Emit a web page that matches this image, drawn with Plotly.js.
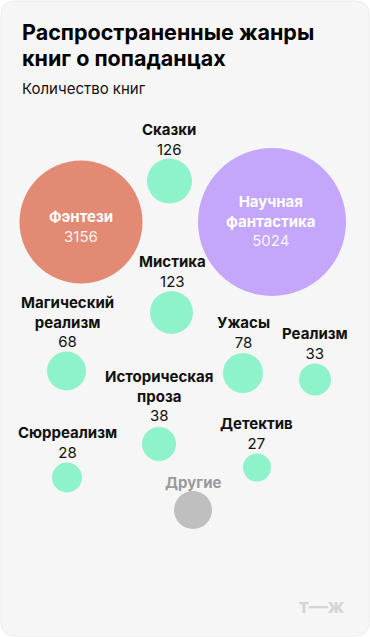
<!DOCTYPE html>
<html>
<head>
<meta charset="utf-8">
<script src="https://cdn.plot.ly/plotly-3.0.1.min.js"></script>
<style>html,body{margin:0;padding:0;background:#fff}#chart{width:370px;height:637px}</style>
</head>
<body>
<div id="chart"></div>
<script>
// ---- data ----
const genres = ['Фэнтези', 'Научная фантастика', 'Сказки', 'Мистика', 'Магический реализм', 'Ужасы', 'Реализм', 'Историческая проза', 'Сюрреализм', 'Детектив', 'Другие'];
const labelText = ['Фэнтези', 'Научная<br>фантастика', 'Сказки', 'Мистика', 'Магический<br>реализм', 'Ужасы', 'Реализм', 'Историческая<br>проза', 'Сюрреализм', 'Детектив', 'Другие'];
const counts = [3156, 5024, 126, 123, 68, 78, 33, 38, 28, 27, null];
const groups = ['fantasy', 'scifi', 'other', 'other', 'other', 'other', 'other', 'other', 'other', 'other', 'rest'];

// ---- layout of the packed bubbles (pixel space) ----
const bubbleX = [81, 272, 169.5, 171.5, 66.5, 243, 315, 159, 67, 257, 193];
const bubbleY = [222, 222, 181, 312.5, 371, 373, 379.5, 444, 477.5, 467.5, 510];
const bubbleD = [123, 148, 45, 43, 39, 40, 32, 34, 30, 28, 38];
const labelX = [81, 271, 169, 172, 67, 243, 315, 159, 67, 256, 193];
const labelY = [226, 221, 139, 271, 321.5, 332.5, 343, 396, 442, 433, 482];

const colorOf = {fantasy: '#e38a75', scifi: '#c4a6fa', other: '#8ef3cb', rest: '#bfbfbf'};
const FONT = 'Inter, Roboto, "DejaVu Sans", sans-serif';

const trace = {
  type: 'scatter', mode: 'markers',
  x: bubbleX, y: bubbleY,
  text: genres,
  hoverinfo: 'text',
  marker: {size: bubbleD, sizemode: 'diameter', color: groups.map(g => colorOf[g]), line: {width: 0}, opacity: 1}
};

const annotations = genres.map((g, i) => {
  const inside = groups[i] === 'fantasy' || groups[i] === 'scifi';
  const nameColor = inside ? '#ffffff' : (groups[i] === 'rest' ? '#9a9a9a' : '#111111');
  const numColor = inside ? 'rgba(255,255,255,0.92)' : '#111111';
  let txt = '<b>' + labelText[i].split('<br>').join('</b><br><b>') + '</b>';
  if (counts[i] !== null) txt += '<br><span style="color:' + numColor + '">' + counts[i] + '</span>';
  return {x: labelX[i], y: labelY[i], xref: 'x', yref: 'y', text: txt, showarrow: false,
    xanchor: 'center', yanchor: 'middle', align: 'center',
    font: {family: FONT, size: 15, color: nameColor}};
});

annotations.push(
  {x: 20, y: 32, xref: 'x', yref: 'y', text: '<b>Распространенные жанры</b>', showarrow: false, xanchor: 'left', yanchor: 'middle', font: {family: FONT, size: 21.5, color: '#000'}},
  {x: 20, y: 58, xref: 'x', yref: 'y', text: '<b>книг о попаданцах</b>', showarrow: false, xanchor: 'left', yanchor: 'middle', font: {family: FONT, size: 21.5, color: '#000'}},
  {x: 20, y: 88, xref: 'x', yref: 'y', text: 'Количество книг', showarrow: false, xanchor: 'left', yanchor: 'middle', font: {family: FONT, size: 15, color: '#111'}},
  {x: 322, y: 606, xref: 'x', yref: 'y', text: '<b>т—ж</b>', showarrow: false, xanchor: 'center', yanchor: 'middle', font: {family: FONT, size: 19, color: '#d4d4d4'}}
);

const r = 14, L = 1, T = 1, R = 369, B = 636;
const cardPath = `M ${L + r} ${T} L ${R - r} ${T} Q ${R} ${T} ${R} ${T + r} L ${R} ${B - r} Q ${R} ${B} ${R - r} ${B} L ${L + r} ${B} Q ${L} ${B} ${L} ${B - r} L ${L} ${T + r} Q ${L} ${T} ${L + r} ${T} Z`;

const layout = {
  width: 370, height: 637,
  margin: {l: 0, r: 0, t: 0, b: 0},
  paper_bgcolor: '#ffffff', plot_bgcolor: 'rgba(0,0,0,0)',
  showlegend: false,
  xaxis: {range: [0, 370], visible: false, fixedrange: true},
  yaxis: {range: [637, 0], visible: false, fixedrange: true},
  shapes: [{type: 'path', path: cardPath, xref: 'x', yref: 'y', fillcolor: '#f6f6f6', line: {color: '#ececec', width: 1}, layer: 'below'}],
  annotations: annotations
};

Plotly.newPlot('chart', [trace], layout, {displayModeBar: false, staticPlot: true});
</script>
</body>
</html>
